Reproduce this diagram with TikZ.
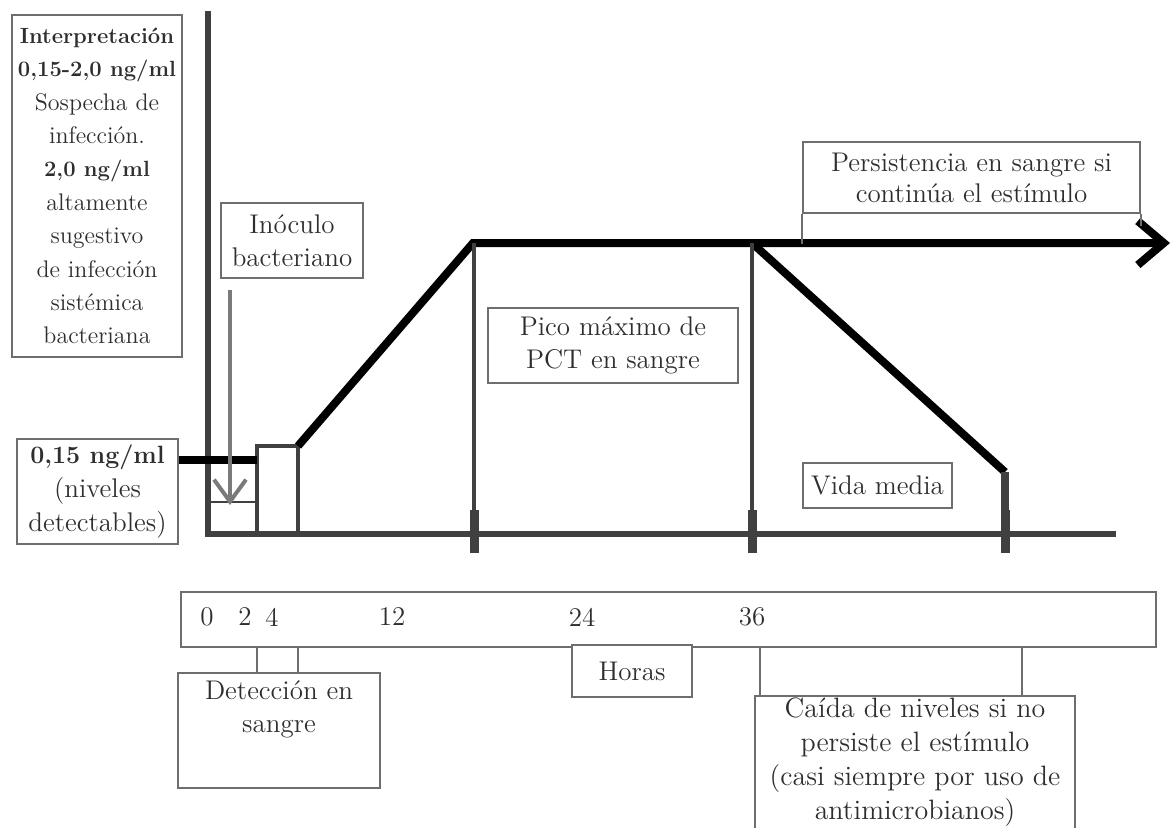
\documentclass[tikz,border=0pt]{standalone}
\usepackage{fontspec}
\usetikzlibrary{arrows.meta}
\definecolor{boxgray}{HTML}{6E6E6E}
\definecolor{txtgray}{HTML}{2E2E2E}
\definecolor{axisgray}{HTML}{404040}
\definecolor{arrowgray}{HTML}{7A7A7A}
\newcommand\bfsmall[1]{{\fontsize{11}{16.7}\selectfont\textbf{#1}}}
\tikzset{
  box/.style={draw=boxgray, line width=0.8pt, text=txtgray, align=center, inner sep=0pt,
    font=\fontsize{13.5}{16.5}\selectfont},
  num/.style={text=txtgray, inner sep=0pt, font=\fontsize{13.5}{16.5}\selectfont},
  curve/.style={line width=4pt, black, line join=miter},
  axis/.style={line width=3pt, axisgray, line join=miter},
  tick/.style={line width=1.6pt, axisgray},
  link/.style={draw=boxgray, line width=0.8pt},
}
\begin{document}
\begin{tikzpicture}[x=0.5pt, y=-0.5pt]
    \clip (0,0) rectangle (1173,827);
    % Text boxes
    \node[box, minimum width=85pt, minimum height=171pt, font=\fontsize{12}{16.7}\selectfont] (interp) at (97,186)
        {\bfsmall{Interpretación}\\ \bfsmall{0,15-2,0 ng/ml}\\ Sospecha de\\ infección.\\ \bfsmall{2,0 ng/ml}\\
         altamente\\ sugestivo\\ de infección\\ sistémica\\ bacteriana};
    \node[box, minimum width=80.5pt, minimum height=52.5pt, font=\fontsize{13.5}{16.8}\selectfont] (low) at (97.5,491.5)
        {{\fontsize{12.5}{16.8}\selectfont\textbf{0,15 ng/ml}}\\ (niveles\\ detectables)};
    \node[box, minimum width=71pt, minimum height=37.5pt] (inoc) at (292,240.5) {Inóculo\\ bacteriano};
    \node[box, minimum width=125pt, minimum height=37.5pt] (pico) at (613,345.5) {Pico máximo de\\ PCT en sangre};
    \node[box, minimum width=74.5pt, minimum height=22.5pt] (vida) at (877.5,485.5) {Vida media};
    \node[box, minimum width=168.5pt, minimum height=35.5pt, font=\fontsize{13.5}{15.5}\selectfont] (persist) at (971.5,177.5)
        {Persistencia en sangre si\\ continúa el estímulo};

    % Axes
    \coordinate (ytop) at (208,11);
    \coordinate (origin) at (208,534);
    \coordinate (xend) at (1116,534);
    \draw[axis] (ytop) -- (origin) -- (xend);

    % PCT curve
    \coordinate (base) at (257,460);
    \coordinate (rise) at (298,446);
    \coordinate (peak) at (473,243);
    \coordinate (fall) at (752,243);
    \coordinate (halfend) at (1005,472);
    \coordinate (persistend) at (1170,243);
    \draw[tick] (base |- origin) rectangle (rise);
    \draw[line width=1.4pt, axisgray] (208,502) -- (257,502);
    \draw[curve] (low.east |- base) -- (base);
    \draw[curve, -{Straight Barb[length=13pt, width=22pt]}] (rise) -- (peak) -- (persistend);
    \draw[curve] (fall) -- (halfend);
    \draw[link] (persist.south west) -- ++(0,30);
    \draw[link] (persist.south east) -- ++(0,12);

    % Time marks on the axis
    \draw[tick] (474,243) -- (474,553);
    \draw[tick] (752,243) -- (752,553);
    \draw[line width=4pt, axisgray] (halfend) -- (1005,553);
    \foreach \x in {474,752,1005}
        \draw[line width=4.5pt, axisgray] (\x,510) -- (\x,553);

    % Bacterial inoculum
    \coordinate (inj) at (230,290);
    \coordinate (injtip) at (230,505);
    \draw[line width=2pt, arrowgray, -{Straight Barb[length=11pt, width=16pt]}] (inj) -- (injtip);

    % Time scale
    \node[box, minimum width=487.5pt, minimum height=27.5pt] (timeline) at (668.5,619.5) {};
    \foreach \t/\x in {0/207, 2/245, 4/272, 12/392, 24/582, 36/752}
        \node[num] (t\t) at (\x,617) {\t};
    \node[box, fill=white, minimum width=60pt, minimum height=26pt] (horas) at (632,671) {Horas};
    \node[box, minimum width=101pt, minimum height=57.5pt] (detec) at (279,730.5)
        {\parbox[c][57.5pt][t]{101pt}{\centering\vspace*{4pt}Detección en\\ sangre}};
    \node[box, minimum width=160pt, minimum height=82pt, font=\fontsize{14}{17}\selectfont] (caida) at (915,778)
        {\parbox[c][82pt][t]{160pt}{\centering\vspace*{1pt}Caída de niveles si no\\ persiste el estímulo\\
         (casi siempre por uso de\\ antimicrobianos)}};
    \foreach \x in {257,298}
        \draw[link] (timeline.south -| \x,0) -- (detec.north -| \x,0);
    \foreach \x in {760,1022}
        \draw[link] (timeline.south -| \x,0) -- (caida.north -| \x,0);
\end{tikzpicture}
\end{document}
